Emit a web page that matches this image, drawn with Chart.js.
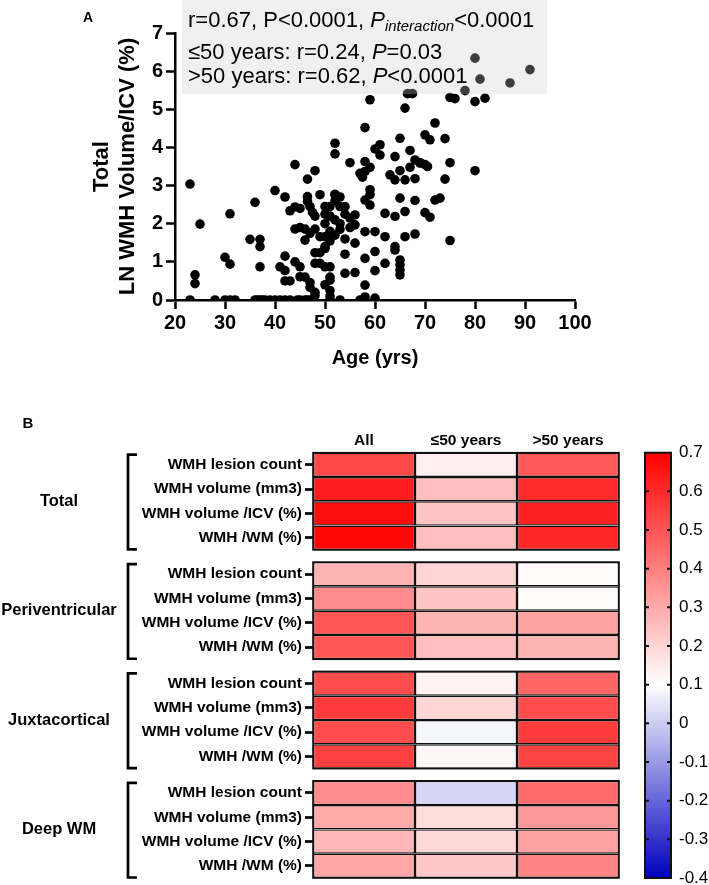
<!DOCTYPE html>
<html>
<head>
<meta charset="utf-8">
<script src="https://cdn.jsdelivr.net/npm/chart.js@4/dist/chart.umd.min.js"></script>
<style>
html,body{margin:0;padding:0;background:#fff;overflow:hidden;}
#wrap{position:relative;width:709px;height:885px;overflow:hidden;background:#fff;}
canvas{position:absolute;left:0;}
#cA{top:0;}
#cB{top:380px;}
</style>
</head>
<body>
<div id="wrap">
<canvas id="cA" width="709" height="380"></canvas>
<canvas id="cB" width="709" height="520"></canvas>
</div>
<script>
// ---------------- Panel A data ----------------
const ages = [23,25,24,24,23,28,30,31,32,31,30,31,36,35,37,37,37,40,42,43,44,44,42,41,42,42,43,44,45,
36,36.5,37,37.5,38,39,40,41,42,43,44.5,45,46,46.5,47,48,
46.5,48,46.5,46.5,47,47.5,48,49,46,46,48,49,48,49,48,49,46,47,47,48,50,51,50,51,51,
52,52,52,51,52,50,51,50,50,55,53,54,54,54,53,51,
59,66.5,67.5,66,58,60,61,61,58,59,57,57.5,58,65,64,67,68,69,70,63,64,65,66,67,68,65,66,68,
59,59,58,59,62,64,58,60,62,66,68,64,64,60,62,58,60,65,65,65,65,56,58,57,58,60,56,56,56,
52,51,52,53,54,55,53,52,51,50,55,54,51,51,
80,81,91,87,78,75,76,80,82,72,71,74,69,70,70.5,75,80,74,72,73,70,71,75,
45,45,47,50,50,53,44,45,60];
const lnWmhVolumeIcv = [3.04,1.99,0.66,0.43,0,0,0,0,0,2.26,1.12,0.94,2.56,1.59,1.59,1.40,0.87,2.87,2.70,2.34,2.44,1.86,1.15,0.87,0.77,0.50,0.50,3.55,0.87,
0,0,0,0,0,0,0,0,0,0,0,0,0,0,0,0.12,
3.17,3.39,2.71,2.58,2.45,2.30,2.20,2.76,1.86,1.57,1.86,1.66,1.24,1.24,0.96,0.96,0.60,0.46,0.33,0.20,0.87,0.60,0.40,0.25,0.10,
4.11,3.83,2.77,2.45,2.60,2.00,1.80,1.66,1.40,3.60,2.45,2.45,1.20,0.70,0,0,
5.25,5.41,5.41,5.03,4.52,3.96,4.07,3.80,3.63,3.48,3.32,3.22,3.37,4.24,3.76,3.92,3.67,3.59,4.33,3.28,3.15,3.39,3.15,3.48,3.18,2.67,2.32,2.61,
2.89,2.76,2.62,2.49,2.27,2.19,1.79,1.79,1.66,1.66,1.73,1.40,1.31,1.27,0.96,1.09,0.77,1.05,0.92,0.79,0.66,0.72,0.39,0,0.08,0,2.23,1.97,1.49,
2.76,2.20,2.10,2.00,2.25,2.15,1.85,1.70,1.55,1.35,1.90,1.60,0.87,0.52,
6.34,5.79,6.04,5.69,5.49,5.31,5.28,5.20,5.29,4.64,4.20,4.23,3.60,3.55,3.50,3.60,3.39,3.17,2.62,2.67,2.29,2.17,1.56,
2.40,1.90,1.75,2.25,2.45,2.70,1.00,0.61,0.05];
const ageTickStep = 10;
const statLine1 = ['r=0.67, P<0.0001, ', 'P', 'interaction', '<0.0001'];
const statLine2 = ['\u226450 years: r=0.24, ', 'P', '=0.03'];
const statLine3 = ['>50 years: r=0.62, ', 'P', '<0.0001'];

// ---------------- Panel B data ----------------
const heatColumns = ['All', '\u226450 years', '>50 years'];
const regionGroups = ['Total', 'Periventricular', 'Juxtacortical', 'Deep WM'];
const measures = ['WMH lesion count', 'WMH volume (mm3)', 'WMH volume /ICV (%)', 'WMH /WM (%)'];
// correlation r, rows = groups x measures (Total, Periventricular, Juxtacortical, Deep WM)
const rAll     = [0.53,0.63,0.67,0.68, 0.28,0.37,0.50,0.50, 0.52,0.56,0.52,0.55, 0.37,0.30,0.27,0.31];
const rUnder50 = [0.14,0.25,0.24,0.25, 0.20,0.24,0.28,0.25, 0.13,0.20,0.08,0.12, 0.02,0.18,0.19,0.23];
const rOver50  = [0.49,0.60,0.62,0.61, 0.11,0.11,0.32,0.28, 0.46,0.52,0.56,0.54, 0.45,0.34,0.32,0.39];
const colorbarMin = -0.4, colorbarMax = 0.7, colorbarStep = 0.1;

// ---------------- common ----------------
const FONT = '"Liberation Sans", Arial, Helvetica, sans-serif';
Chart.defaults.font.family = FONT;
Chart.defaults.color = '#000';

function heatColor(v) {
  const w = 0.1;
  if (v >= w) {
    const t = Math.min(1, (v - w) / (colorbarMax - w));
    const c = Math.round(255 * (1 - t));
    return 'rgb(255,' + c + ',' + c + ')';
  }
  const t = Math.min(1, (w - v) / (w - colorbarMin));
  const c = Math.round(255 * (1 - t));
  return 'rgb(' + c + ',' + c + ',' + Math.round(255 - 65 * t) + ')';
}

// ---------------- Chart A ----------------
const annotA = {
  id: 'annotA',
  afterDatasetsDraw(chart) {
    const ctx = chart.ctx;
    ctx.save();
    ctx.fillStyle = 'rgba(204,204,204,0.3)';
    ctx.fillRect(182, 0, 365, 94);
    ctx.fillStyle = '#000';
    ctx.textBaseline = 'alphabetic';
    ctx.textAlign = 'left';
    const reg = '22px ' + FONT, ita = 'italic 22px ' + FONT, sub = 'italic 15px ' + FONT;
    let x;
    const seg = (t, f, y) => { ctx.font = f; ctx.fillText(t, x, y); x += ctx.measureText(t).width; };
    x = 188; seg(statLine1[0], reg, 27); seg(statLine1[1], ita, 27); seg(statLine1[2], sub, 31); seg(statLine1[3], reg, 27);
    x = 188; seg(statLine2[0], reg, 58.5); seg(statLine2[1], ita, 58.5); seg(statLine2[2], reg, 58.5);
    x = 188; seg(statLine3[0], reg, 83); seg(statLine3[1], ita, 83); seg(statLine3[2], reg, 83);
    ctx.font = 'bold 14px ' + FONT;
    ctx.textAlign = 'center'; ctx.textBaseline = 'middle';
    ctx.fillText('A', 88, 18);
    ctx.restore();
  }
};

new Chart(document.getElementById('cA'), {
  type: 'scatter',
  data: {
    datasets: [{
      data: ages.map((a, i) => ({ x: a, y: lnWmhVolumeIcv[i] })),
      pointRadius: 4.8, pointHoverRadius: 4.8,
      backgroundColor: '#000', borderWidth: 0
    }]
  },
  options: {
    responsive: false, animation: false, devicePixelRatio: 1,
    events: [],
    layout: { padding: { left: 0, top: 33, right: 134, bottom: 0 } },
    plugins: { legend: { display: false }, tooltip: { enabled: false } },
    scales: {
      x: {
        type: 'linear', min: 20, max: 100,
        ticks: { stepSize: ageTickStep, font: { size: 20, weight: 'bold' }, padding: 2, color: '#000' },
        grid: { display: true, drawOnChartArea: false, drawTicks: true, tickLength: 9, tickWidth: 2.5, tickColor: '#000' },
        border: { display: true, color: '#000', width: 2.5 },
        title: { display: true, text: 'Age (yrs)', font: { size: 20, weight: 'bold' }, color: '#000', padding: { top: 0, bottom: 10 } },
        afterFit(s) { s.height = 80; }
      },
      y: {
        type: 'linear', min: 0, max: 7,
        ticks: { stepSize: 1, font: { size: 20, weight: 'bold' }, padding: 3, color: '#000' },
        grid: { display: true, drawOnChartArea: false, drawTicks: true, tickLength: 9, tickWidth: 2.5, tickColor: '#000' },
        border: { display: true, color: '#000', width: 2.5 },
        title: { display: true, text: ['Total', 'LN WMH Volume/ICV (%)'], font: { size: 22, weight: 'bold', lineHeight: 1.18 }, color: '#000', padding: { top: 89, bottom: 0 } },
        afterFit(s) { s.width = 175; }
      }
    }
  },
  plugins: [annotA]
});

// ---------------- Chart B ----------------
const groupPitch = 4.5;
const rowPos = [];
regionGroups.forEach((g, gi) => measures.forEach((m, mi) => rowPos.push(gi * groupPitch + mi)));
const heatValues = [rAll, rUnder50, rOver50];

const decoB = {
  id: 'decoB',
  afterDraw(chart) {
    const ctx = chart.ctx;
    const ys = chart.scales.y, xs = chart.scales.x, cb = chart.scales.cb;
    ctx.save();
    // group frames, brackets and labels
    regionGroups.forEach((g, gi) => {
      const top = ys.getPixelForValue(gi * groupPitch - 0.5);
      const bot = ys.getPixelForValue(gi * groupPitch + measures.length - 0.5);
      ctx.strokeStyle = '#111'; ctx.lineWidth = 1.6;
      ctx.strokeRect(xs.left, top, xs.right - xs.left, bot - top);
      ctx.strokeStyle = '#000'; ctx.lineWidth = 2.7;
      ctx.beginPath();
      ctx.moveTo(137, top + 2); ctx.lineTo(128, top + 2); ctx.lineTo(128, bot - 0.5); ctx.lineTo(137, bot - 0.5);
      ctx.stroke();
      ctx.fillStyle = '#000';
      ctx.font = 'bold 16.5px ' + FONT;
      ctx.textAlign = 'center'; ctx.textBaseline = 'middle';
      ctx.fillText(g, 59, (top + bot) / 2);
    });
    // colorbar
    const x0 = 645, x1 = 671, yt = cb.top, yb = cb.bottom;
    const grad = ctx.createLinearGradient(0, yt, 0, yb);
    for (let k = 0; k <= 22; k++) {
      const v = colorbarMax - k * (colorbarMax - colorbarMin) / 22;
      grad.addColorStop(k / 22, heatColor(v));
    }
    ctx.fillStyle = grad;
    ctx.fillRect(x0, yt, x1 - x0, yb - yt);
    ctx.strokeStyle = '#111'; ctx.lineWidth = 2;
    ctx.strokeRect(x0, yt, x1 - x0, yb - yt);
    ctx.lineWidth = 2;
    cb.ticks.forEach(t => {
      const y = cb.getPixelForValue(t.value);
      if (y <= yt + 2 || y >= yb - 2) return;
      ctx.beginPath();
      ctx.moveTo(x0, y); ctx.lineTo(x0 + 4, y);
      ctx.moveTo(x1 - 4, y); ctx.lineTo(x1, y);
      ctx.stroke();
    });
    ctx.fillStyle = '#000';
    ctx.font = 'bold 15px ' + FONT;
    ctx.textAlign = 'center'; ctx.textBaseline = 'middle';
    ctx.fillText('B', 28, 44);
    ctx.restore();
  }
};

new Chart(document.getElementById('cB'), {
  type: 'bar',
  data: {
    labels: rowPos,
    datasets: heatColumns.map((col, ci) => ({
      label: col,
      data: rowPos.map(p => ({ x: [ci, ci + 1], y: p })),
      backgroundColor: ctx => heatColor(heatValues[ci][ctx.dataIndex]),
      borderColor: '#111', borderWidth: 1.4, borderSkipped: false, inflateAmount: 0,
      grouped: false, barPercentage: 1, categoryPercentage: 1,
      xAxisID: 'x', yAxisID: 'y'
    }))
  },
  options: {
    indexAxis: 'y',
    responsive: false, animation: false, devicePixelRatio: 1,
    events: [],
    layout: { padding: { left: 0, top: 0, right: 0, bottom: 22 } },
    plugins: { legend: { display: false }, tooltip: { enabled: false } },
    scales: {
      x: {
        type: 'linear', position: 'top', min: 0, max: heatColumns.length,
        afterBuildTicks(s) { s.ticks = heatColumns.map((c, i) => ({ value: i + 0.5 })); },
        ticks: { callback: (v, i) => heatColumns[i], font: { size: 15.5, weight: 'bold' }, padding: 3, autoSkip: false, maxRotation: 0, color: '#000' },
        grid: { display: false, drawTicks: false, tickLength: 0 }, border: { display: false },
        afterFit(s) { s.height = 72.7; }
      },
      y: {
        type: 'linear', position: 'left', reverse: true, offset: false,
        min: -0.5, max: (regionGroups.length - 1) * groupPitch + measures.length - 0.5,
        afterBuildTicks(s) { s.ticks = rowPos.map(v => ({ value: v })); },
        ticks: { callback: (v, i) => measures[i % measures.length], font: { size: 15.5, weight: 'bold' }, padding: 3, autoSkip: false, color: '#000' },
        grid: { display: true, offset: false, drawOnChartArea: false, drawTicks: true, tickLength: 8, tickWidth: 2.7, tickColor: '#000' },
        border: { display: false },
        afterFit(s) { s.width = 313; }
      },
      cb: {
        type: 'linear', axis: 'y', position: 'right', offset: false, min: colorbarMin, max: colorbarMax,
        ticks: { stepSize: colorbarStep, callback: v => String(Math.round(v * 10) / 10), font: { size: 17 }, padding: 2, color: '#000' },
        grid: { display: true, offset: false, drawOnChartArea: false, drawTicks: true, tickLength: 58, tickColor: 'rgba(0,0,0,0)' },
        border: { display: false },
        afterFit(s) { s.width = 90; }
      }
    }
  },
  plugins: [decoB]
});
</script>
</body>
</html>
